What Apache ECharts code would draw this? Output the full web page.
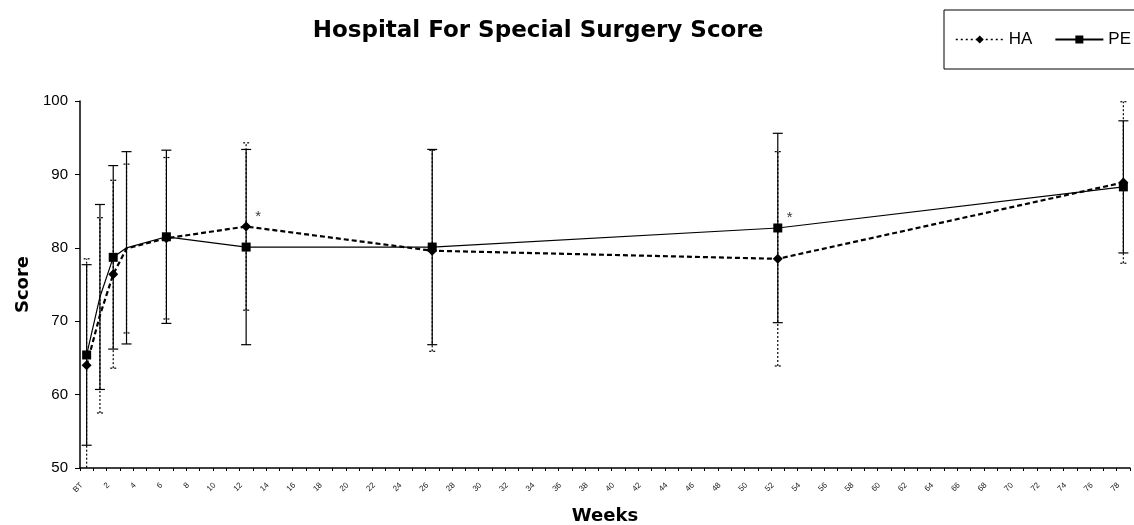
<!DOCTYPE html>
<html>
<head>
<meta charset="utf-8">
<script src="https://cdn.jsdelivr.net/npm/echarts@6/dist/echarts.min.js"></script>
<style>
  html, body { margin: 0; padding: 0; background: #fff; }
  #chart { width: 1134px; height: 525px; }
</style>
</head>
<body>
<div id="chart"></div>
<script>
// Weeks after treatment (0 = baseline "BT")
const weeks = [0, 1, 2, 3, 6, 12, 26, 52, 78];

// HA group: mean score and standard deviation
const haMean = [64.0, 70.8, 76.4, 79.9, 81.3, 82.9, 79.6, 78.5, 88.9];
const haSD   = [14.5, 13.3, 12.8, 11.5, 11.0, 11.4, 13.7, 14.6, 11.0];

// PE group: mean score and standard deviation
const peMean = [65.4, 73.3, 78.7, 80.0, 81.5, 80.1, 80.1, 82.7, 88.3];
const peSD   = [12.3, 12.6, 12.5, 13.1, 11.8, 13.3, 13.3, 12.9, 9.0];

// Weeks with a significant difference between groups
const sigWeeks = [12, 52];

// Category axis: BT, 1, 2, ... 78
const categories = ['BT'];
for (let w = 1; w <= 78; w++) categories.push(String(w));

const FONT = '"Liberation Sans", Arial, sans-serif';
const BOLD_FONT = '"DejaVu Sans", "Liberation Sans", Arial, sans-serif';

function pairs(means) {
  return weeks.map((w, i) => [w, means[i]]);
}
function barData(means, sds) {
  return weeks.map((w, i) => [w, means[i] - sds[i], means[i] + sds[i]]);
}

function errorBars(capHalf, dash, width) {
  return function (params, api) {
    const x = api.value(0);
    const lo = api.coord([x, api.value(1)]);
    const hi = api.coord([x, api.value(2)]);
    const style = { stroke: '#000', lineWidth: width, lineDash: dash, fill: null };
    return {
      type: 'group',
      children: [
        { type: 'line', shape: { x1: lo[0], y1: lo[1], x2: hi[0], y2: hi[1] }, style },
        { type: 'line', shape: { x1: hi[0] - capHalf, y1: hi[1], x2: hi[0] + capHalf, y2: hi[1] }, style },
        { type: 'line', shape: { x1: lo[0] - capHalf, y1: lo[1], x2: lo[0] + capHalf, y2: lo[1] }, style }
      ]
    };
  };
}

const sigData = sigWeeks.map(w => {
  const i = weeks.indexOf(w);
  return [w, Math.max(haMean[i], peMean[i])];
});

const chart = echarts.init(document.getElementById('chart'), null, { renderer: 'canvas' });
chart.setOption({
  animation: false,
  backgroundColor: '#fff',
  textStyle: { fontFamily: FONT, color: '#000' },
  title: {
    text: 'Hospital For Special Surgery Score',
    left: 533,
    textAlign: 'center',
    top: 15,
    textStyle: { fontFamily: BOLD_FONT, fontWeight: 'bold', fontSize: 23, color: '#000' }
  },
  legend: {
    left: 944,
    top: 10,
    width: 300,
    orient: 'horizontal',
    padding: [21, 20, 21, 11],
    borderColor: '#000',
    borderWidth: 1,
    itemWidth: 48,
    itemHeight: 10,
    itemGap: 22,
    textStyle: { fontFamily: FONT, fontSize: 17, color: '#000' },
    data: [
      { name: 'HA', lineStyle: { type: [2, 3], width: 1.5 } },
      { name: 'PE' }
    ]
  },
  grid: { left: 80, right: 4, top: 101, bottom: 57, outerBoundsMode: 'none', containLabel: false },
  xAxis: {
    type: 'category',
    data: categories,
    boundaryGap: true,
    name: 'Weeks',
    nameLocation: 'middle',
    nameGap: 39,
    nameTextStyle: { fontFamily: BOLD_FONT, fontWeight: 'bold', fontSize: 18, color: '#000' },
    axisLine: { lineStyle: { color: '#000', width: 1.5 } },
    axisTick: { show: true, interval: 0, alignWithLabel: false, length: 3, lineStyle: { color: '#000' } },
    axisLabel: { interval: 1, rotate: 45, fontSize: 8, color: '#222', margin: 11, padding: [0, 7, 0, 0], fontFamily: FONT },
    splitLine: { show: false }
  },
  yAxis: {
    type: 'value',
    min: 50,
    max: 100,
    interval: 10,
    name: 'Score',
    nameLocation: 'middle',
    nameGap: 48,
    nameTextStyle: { fontFamily: BOLD_FONT, fontWeight: 'bold', fontSize: 18, color: '#000' },
    axisLine: { show: true, lineStyle: { color: '#000', width: 1.5 } },
    axisTick: { show: true, length: 5, lineStyle: { color: '#000' } },
    axisLabel: { fontSize: 15, color: '#000', margin: 12, fontFamily: FONT },
    splitLine: { show: false }
  },
  series: [
    {
      name: 'HA SD',
      type: 'custom',
      clip: true,
      renderItem: errorBars(3, [2, 2], 1.2),
      data: barData(haMean, haSD),
      z: 1
    },
    {
      name: 'PE SD',
      type: 'custom',
      clip: true,
      renderItem: errorBars(5, null, 1.2),
      data: barData(peMean, peSD),
      z: 1
    },
    {
      name: 'HA',
      type: 'line',
      data: pairs(haMean),
      symbol: 'diamond',
      symbolSize: 10,
      itemStyle: { color: '#000' },
      lineStyle: { color: '#000', width: 2.2, type: [5, 3] },
      z: 3
    },
    {
      name: 'PE',
      type: 'line',
      data: pairs(peMean),
      symbol: 'rect',
      symbolSize: 9,
      itemStyle: { color: '#000' },
      lineStyle: { color: '#000', width: 1.2, type: 'solid' },
      z: 4
    },
    {
      name: 'sig',
      type: 'scatter',
      data: sigData,
      symbolSize: 0,
      silent: true,
      label: {
        show: true,
        formatter: '*',
        position: 'right',
        offset: [4, -10],
        fontSize: 15,
        color: '#000',
        fontFamily: FONT
      },
      z: 5
    }
  ]
});
</script>
</body>
</html>
